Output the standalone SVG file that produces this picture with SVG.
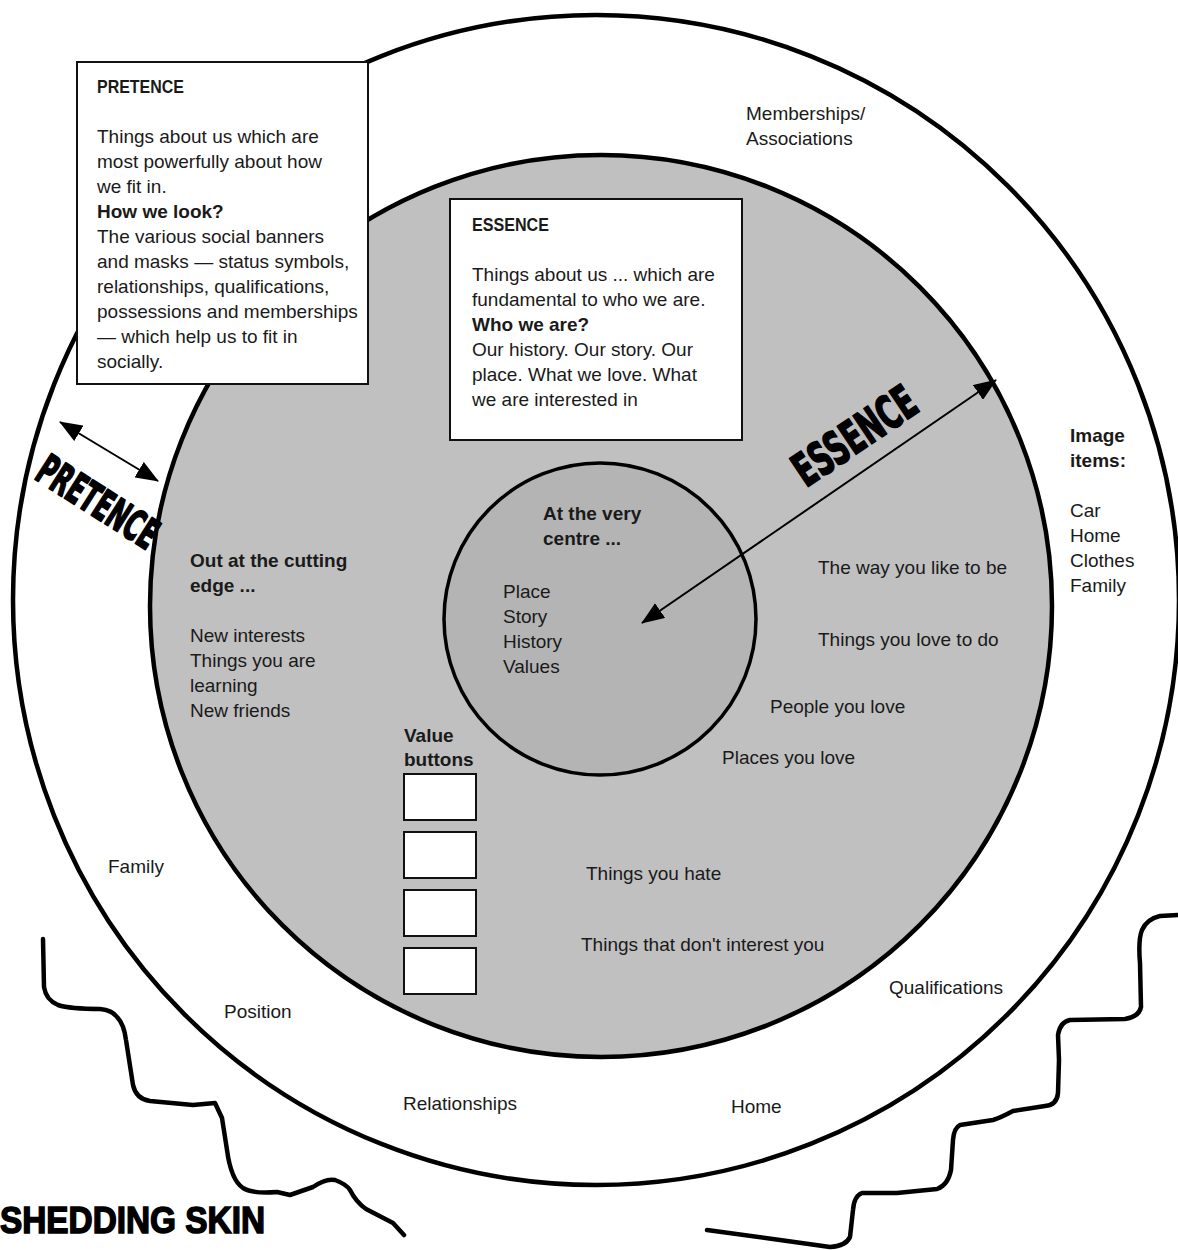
<svg xmlns="http://www.w3.org/2000/svg" width="1178" height="1250" viewBox="0 0 1178 1250">
<style>
.t{font-family:"Liberation Sans",Arial,sans-serif;font-size:19px;fill:#1a1a1a}
.b{font-weight:bold}
.ring{stroke:#000;stroke-width:4.5}
.box{fill:#fff;stroke:#111;stroke-width:2}
.conn{stroke:#000;stroke-width:2;fill:none}
.skin{fill:none;stroke:#000;stroke-width:4.5;stroke-linecap:round;stroke-linejoin:round}
.big{font-family:"DejaVu Sans Condensed","DejaVu Sans",sans-serif;font-weight:bold;fill:#000;stroke:#000;stroke-width:1.8;stroke-linejoin:round}
</style>
<defs>
<marker id="ah" markerUnits="userSpaceOnUse" markerWidth="24" markerHeight="18" refX="22" refY="9" orient="auto-start-reverse">
<path d="M0,0 L23,9 L0,18 Z" fill="#000"/>
</marker>
</defs>
<rect width="1178" height="1250" fill="#fff"/>

<g id="outer-ring">
<ellipse cx="596" cy="600" rx="583" ry="585" fill="#fff" class="ring"/>
</g>
<g id="middle-ring">
<circle cx="601" cy="606" r="451" fill="#c0c0c0" class="ring"/>
</g>
<g id="core">
<circle cx="600" cy="619" r="156" fill="#b4b4b4" stroke="#000" stroke-width="3.5"/>
<text class="t b" x="543" y="520">At the very</text>
<text class="t b" x="543" y="545">centre ...</text>
<text class="t" x="503" y="598">Place</text>
<text class="t" x="503" y="623">Story</text>
<text class="t" x="503" y="648">History</text>
<text class="t" x="503" y="673">Values</text>
</g>

<g id="shedding-skin">
<path class="skin" d="M43,939 L44,987 Q46,1000 58,1005 Q70,1009 100,1009 Q112,1010 117,1017 Q124,1024 126,1040 L133,1085 Q136,1099 150,1101 L193,1105 L215,1103 L222,1118 L227,1150 Q231,1180 243,1188 Q253,1194 277,1192 L290,1195 L313,1187 Q326,1178 335,1180 Q346,1184 350,1190 Q356,1202 366,1209 L393,1223 L404,1235"/>
<path class="skin" d="M1178,915 L1160,916 Q1147,919 1142,930 Q1138,940 1140,963 L1141,1007 Q1139,1017 1125,1019 L1070,1020 Q1060,1022 1058,1035 L1059,1060 L1058,1093 Q1057,1105 1045,1106 L1013,1111 Q1000,1118 993,1120 L960,1125 Q954,1128 953,1140 L951,1170 Q948,1185 937,1189 L897,1193 L862,1193 Q854,1196 853,1210 L850,1237 Q846,1246 830,1247 L780,1240 L707,1230"/>
<text x="0" y="1233" font-family="Liberation Sans,Arial,sans-serif" font-weight="bold" font-size="37" fill="#000" stroke="#000" stroke-width="1.5" textLength="265" lengthAdjust="spacingAndGlyphs">SHEDDING SKIN</text>
</g>

<g id="pretence-box">
<rect class="box" x="77" y="62" width="291" height="322"/>
<text class="t b" x="97" y="93" textLength="87" lengthAdjust="spacingAndGlyphs">PRETENCE</text>
<text class="t" x="97" y="143">Things about us which are</text>
<text class="t" x="97" y="168">most powerfully about how</text>
<text class="t" x="97" y="193">we fit in.</text>
<text class="t b" x="97" y="218">How we look?</text>
<text class="t" x="97" y="243">The various social banners</text>
<text class="t" x="97" y="268">and masks — status symbols,</text>
<text class="t" x="97" y="293">relationships, qualifications,</text>
<text class="t" x="97" y="318">possessions and memberships</text>
<text class="t" x="97" y="343">— which help us to fit in</text>
<text class="t" x="97" y="368">socially.</text>
</g>

<g id="essence-box">
<rect class="box" x="450" y="199" width="292" height="241"/>
<text class="t b" x="472" y="231" textLength="77" lengthAdjust="spacingAndGlyphs">ESSENCE</text>
<text class="t" x="472" y="281">Things about us ... which are</text>
<text class="t" x="472" y="306">fundamental to who we are.</text>
<text class="t b" x="472" y="331">Who we are?</text>
<text class="t" x="472" y="356">Our history. Our story. Our</text>
<text class="t" x="472" y="381">place. What we love. What</text>
<text class="t" x="472" y="406">we are interested in</text>
</g>

<g id="value-buttons">
<text class="t b" x="404" y="742">Value</text>
<text class="t b" x="404" y="766">buttons</text>
<rect class="box" x="404" y="774" width="72" height="46"/>
<rect class="box" x="404" y="832" width="72" height="46"/>
<rect class="box" x="404" y="890" width="72" height="46"/>
<rect class="box" x="404" y="948" width="72" height="46"/>
</g>

<g id="cutting-edge">
<text class="t b" x="190" y="567">Out at the cutting</text>
<text class="t b" x="190" y="592">edge ...</text>
<text class="t" x="190" y="642">New interests</text>
<text class="t" x="190" y="667">Things you are</text>
<text class="t" x="190" y="692">learning</text>
<text class="t" x="190" y="717">New friends</text>
</g>

<g id="essence-items">
<text class="t" x="818" y="574">The way you like to be</text>
<text class="t" x="818" y="646">Things you love to do</text>
<text class="t" x="770" y="713">People you love</text>
<text class="t" x="722" y="764">Places you love</text>
<text class="t" x="586" y="880">Things you hate</text>
<text class="t" x="581" y="951">Things that don't interest you</text>
</g>

<g id="pretence-items">
<text class="t" x="746" y="120">Memberships/</text>
<text class="t" x="746" y="145">Associations</text>
<text class="t b" x="1070" y="442">Image</text>
<text class="t b" x="1070" y="467">items:</text>
<text class="t" x="1070" y="517">Car</text>
<text class="t" x="1070" y="542">Home</text>
<text class="t" x="1070" y="567">Clothes</text>
<text class="t" x="1070" y="592">Family</text>
<text class="t" x="108" y="873">Family</text>
<text class="t" x="224" y="1018">Position</text>
<text class="t" x="403" y="1110">Relationships</text>
<text class="t" x="731" y="1113">Home</text>
<text class="t" x="889" y="994">Qualifications</text>
</g>

<g id="labels">
<text class="big" font-size="42" transform="translate(33,478) rotate(32.5)" textLength="135" lengthAdjust="spacingAndGlyphs">PRETENCE</text>
<text class="big" font-size="46" transform="translate(806,488) rotate(-34)" textLength="139" lengthAdjust="spacingAndGlyphs">ESSENCE</text>
</g>

<g id="connectors">
<line class="conn" x1="60" y1="422" x2="158" y2="481" marker-start="url(#ah)" marker-end="url(#ah)"/>
<line class="conn" x1="642" y1="623" x2="996" y2="380" marker-start="url(#ah)" marker-end="url(#ah)"/>
</g>
</svg>
